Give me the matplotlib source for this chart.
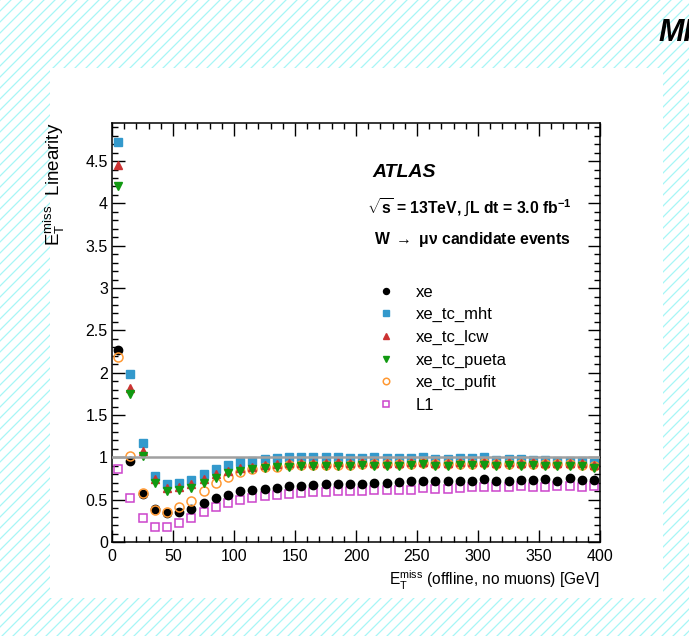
import numpy as np
import matplotlib
matplotlib.use('Agg')
import matplotlib.pyplot as plt
from matplotlib.lines import Line2D
from matplotlib.patches import Rectangle

plt.rcParams['font.family'] = ['Liberation Sans', 'DejaVu Sans']
plt.rcParams['mathtext.fontset'] = 'custom'
plt.rcParams['mathtext.rm'] = 'Liberation Sans'
plt.rcParams['mathtext.it'] = 'Liberation Sans:italic'
plt.rcParams['mathtext.bf'] = 'Liberation Sans:bold'

# bin centres of offline MET (GeV)
met = np.arange(5, 400, 10)

xe = [2.27, 0.96, 0.57, 0.39, 0.34, 0.35, 0.39, 0.46, 0.52, 0.56,
      0.60, 0.62, 0.63, 0.64, 0.66, 0.665, 0.67, 0.68, 0.68, 0.69,
      0.69, 0.70, 0.70, 0.71, 0.715, 0.72, 0.715, 0.715, 0.72, 0.72,
      0.74, 0.72, 0.72, 0.73, 0.735, 0.74, 0.72, 0.755, 0.73, 0.73]
xe_tc_mht = [4.72, 1.98, 1.17, 0.78, 0.68, 0.70, 0.73, 0.80, 0.865, 0.91,
             0.94, 0.96, 0.98, 0.99, 1.0, 1.0, 1.0, 1.0, 1.0, 0.995,
             0.995, 1.0, 0.995, 0.99, 0.99, 1.01, 0.98, 0.98, 0.99, 0.99,
             1.0, 0.97, 0.98, 0.98, 0.97, 0.97, 0.96, 0.96, 0.96, 0.93]
xe_tc_lcw = [4.45, 1.82, 1.07, 0.74, 0.64, 0.65, 0.68, 0.74, 0.80, 0.84,
             0.87, 0.89, 0.91, 0.92, 0.93, 0.93, 0.93, 0.93, 0.94, 0.93,
             0.94, 0.93, 0.93, 0.93, 0.94, 0.95, 0.93, 0.93, 0.94, 0.94,
             0.94, 0.93, 0.94, 0.93, 0.94, 0.93, 0.93, 0.93, 0.93, 0.91]
xe_tc_pueta = [4.21, 1.75, 1.02, 0.70, 0.60, 0.61, 0.64, 0.70, 0.76, 0.81,
               0.84, 0.86, 0.88, 0.89, 0.89, 0.90, 0.90, 0.90, 0.90, 0.90,
               0.91, 0.90, 0.90, 0.90, 0.91, 0.92, 0.90, 0.90, 0.91, 0.91,
               0.91, 0.90, 0.91, 0.90, 0.91, 0.90, 0.90, 0.90, 0.90, 0.87]
xe_tc_pufit = [2.18, 1.02, 0.58, 0.38, 0.35, 0.41, 0.49, 0.60, 0.70, 0.77,
               0.83, 0.865, 0.885, 0.89, 0.905, 0.91, 0.91, 0.91, 0.915, 0.915,
               0.92, 0.92, 0.92, 0.92, 0.92, 0.93, 0.92, 0.92, 0.92, 0.92,
               0.93, 0.92, 0.92, 0.92, 0.92, 0.92, 0.92, 0.92, 0.91, 0.90]
l1 = [0.86, 0.515, 0.285, 0.175, 0.175, 0.225, 0.285, 0.35, 0.41, 0.46,
      0.50, 0.52, 0.545, 0.56, 0.57, 0.58, 0.585, 0.59, 0.60, 0.60,
      0.605, 0.61, 0.615, 0.62, 0.62, 0.64, 0.63, 0.63, 0.64, 0.645,
      0.645, 0.645, 0.65, 0.66, 0.655, 0.655, 0.66, 0.665, 0.655, 0.66]

W, H = 689, 636
fig = plt.figure(figsize=(W / 100, H / 100), dpi=100)

# hatched page background with a white panel
for x0 in np.arange(-H, W + 11, 11):
    fig.add_artist(Line2D([x0 / W, (x0 + H) / W], [0, 1], transform=fig.transFigure,
                          color='#a6f6f6', lw=0.9, zorder=-3))
fig.add_artist(Rectangle((50 / W, 38 / H), 613 / W, 530 / H, transform=fig.transFigure,
                         facecolor='white', edgecolor='none', zorder=-2))
fig.text(658 / W, 1 - 33 / H, 'MI', fontsize=22, fontweight='bold', fontstyle='italic',
         va='center', ha='left')

ax = fig.add_axes([112 / W, 94 / H, 488 / W, 419 / H])

ms = 6.0
ax.plot(met, l1, 's', ms=ms, mfc='none', mec='#cc44cc', mew=1.1, label='L1', zorder=2)
ax.plot(met, xe_tc_mht, 's', ms=ms, color='#3399cc', label='xe_tc_mht', zorder=2)
ax.plot(met, xe, 'o', ms=ms, color='black', label='xe', zorder=2)
ax.plot(met, xe_tc_pufit, 'o', ms=ms + 0.5, mfc='none', mec='#ff9933', mew=1.1,
        label='xe_tc_pufit', zorder=2)
ax.plot(met, xe_tc_lcw, '^', ms=ms, color='#cc3333', label='xe_tc_lcw', zorder=2)
ax.plot(met, xe_tc_pueta, 'v', ms=ms, color='#119911', label='xe_tc_pueta', zorder=2)
ax.axhline(1.0, color='#a0a0a0', lw=1.8, zorder=3)

ax.set_xlim(0, 400)
ax.set_ylim(0, 4.95)
ax.set_xticks(np.arange(0, 401, 50))
ax.set_xticks(np.arange(0, 401, 10), minor=True)
ax.set_yticks(np.arange(0, 4.9, 0.5))
ax.set_yticks(np.arange(0, 4.95, 0.1), minor=True)
ax.set_yticklabels(['0', '0.5', '1', '1.5', '2', '2.5', '3', '3.5', '4', '4.5'])
ax.tick_params(which='both', direction='in', top=True, right=True, width=1.0,
               labelsize=11.5)
ax.tick_params(which='major', length=9)
ax.tick_params(which='minor', length=4.5)
ax.tick_params(axis='y', pad=3)
ax.tick_params(axis='x', pad=5)
for s in ax.spines.values():
    s.set_linewidth(1.1)

ax.set_xlabel(r'$\mathregular{E_{T}^{miss}}$ (offline, no muons) [GeV]', fontsize=11.2,
              loc='right')
ax.xaxis.set_label_coords(1.0, -0.065)
ax.set_ylabel(r'$\mathregular{E_{T}^{miss}}$  Linearity', fontsize=13.5, loc='top')
ax.yaxis.set_label_coords(-0.092, 1.0)

ax.text(0.533, 0.881, 'ATLAS', transform=ax.transAxes, fontsize=14, fontweight='bold',
        fontstyle='italic', va='center')
ax.text(0.522, 0.798, r'$\mathbf{\sqrt{s}}$ = 13TeV, $\int$L dt = 3.0 fb$^{\mathbf{-1}}$',
        transform=ax.transAxes, fontsize=11.3, fontweight='bold', va='center')
ax.text(0.537, 0.722, r'W $\rightarrow$ $\mathregular{\mu\nu}$ candidate events',
        transform=ax.transAxes, fontsize=11.3, fontweight='bold', va='center')

h, lab = ax.get_legend_handles_labels()
order = ['xe', 'xe_tc_mht', 'xe_tc_lcw', 'xe_tc_pueta', 'xe_tc_pufit', 'L1']
hs = [h[lab.index(o)] for o in order]
ax.legend(hs, order, loc='upper left', bbox_to_anchor=(0.545, 0.614), frameon=False,
          fontsize=12, handlelength=1.0, handletextpad=1.25, labelspacing=0.45,
          borderpad=0, borderaxespad=0, markerscale=0.72)

fig.savefig('out.png', dpi=100)
